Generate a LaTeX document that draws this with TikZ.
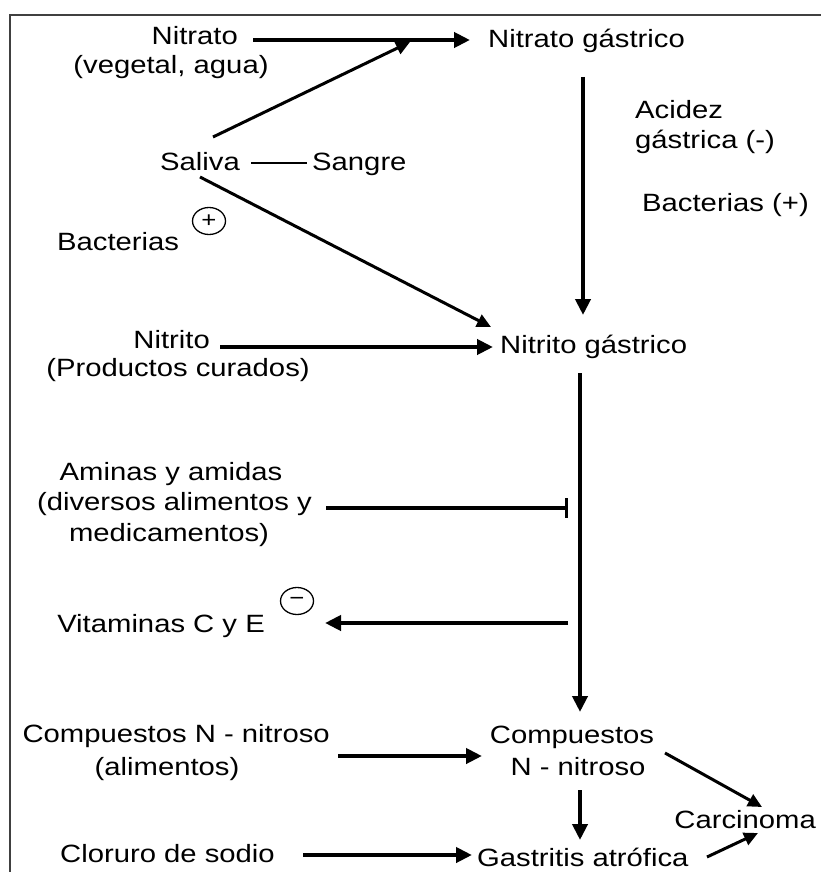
\documentclass[tikz,border=0pt]{standalone}
\usepackage{fontspec}
\setmainfont[FakeStretch=1.17]{Liberation Sans}
\usetikzlibrary{arrows.meta,calc,shapes.geometric}
\begin{document}
\begin{tikzpicture}[x=1pt,y=-1pt,
  txt/.style={inner sep=0pt,font=\fontsize{25}{30}\selectfont},
  arr/.style={line width=4pt,-{Triangle[length=16pt,width=15pt]}},
  darr/.style={line width=3pt,-{Triangle[length=14pt,width=13pt]}},
  barr/.style={line width=4pt,-{Bar[width=20pt,line width=3pt]}},
  sign/.style={ellipse,draw,line width=1.3pt,inner sep=0pt,minimum width=33pt,minimum height=27pt,font=\fontsize{22}{22}\selectfont}]
\useasboundingbox (0,0) rectangle (821,872);
\draw[line width=2pt,black!75] (821,15) -- (10,15) -- (10,872);
% nodes
\node[txt,anchor=base east] (nitrato) at (238,45) {Nitrato};
\node[txt,anchor=base] (nitratoSrc) at (171,74) {(vegetal, agua)};
\node[txt,anchor=base west] (ng) at (488,48) {Nitrato gástrico};
\node[txt,anchor=base west] (saliva) at (160,170) {Saliva};
\node[txt,anchor=base west] (sangre) at (312,170) {Sangre};
\node[txt,anchor=base west] (bacL) at (57,250) {Bacterias};
\node[sign] (plus) at (209,221) {+};
\node[txt,anchor=base west] (acidez) at (635,118) {Acidez};
\node[txt,anchor=base west] (gastrica) at (635,148) {gástrica (-)};
\node[txt,anchor=base west] (bacR) at (642,211) {Bacterias (+)};
\node[txt,anchor=base east] (nitrito) at (210,348) {Nitrito};
\node[txt,anchor=base] (nitritoSrc) at (178,376) {(Productos curados)};
\node[txt,anchor=base west] (nig) at (500,353) {Nitrito gástrico};
\node[txt,anchor=base] (am1) at (171,480) {Aminas y amidas};
\node[txt,anchor=base east] (am2) at (312,510) {(diversos alimentos y};
\node[txt,anchor=base] (am3) at (169,541) {medicamentos)};
\node[txt,anchor=base east] (vit) at (265,632) {Vitaminas C y E};
\node[sign] (minus) at (297,601) {−};
\node[txt,anchor=base east] (cnl1) at (330,742) {Compuestos N - nitroso};
\node[txt,anchor=base] (cnl2) at (167,775) {(alimentos)};
\node[txt,anchor=base] (cn1) at (572,743) {Compuestos};
\node[txt,anchor=base] (cn2) at (578,775) {N - nitroso};
\node[txt,anchor=base east] (cloruro) at (275,862) {Cloruro de sodio};
\node[txt,anchor=base west] (ga) at (477,866) {Gastritis atrófica};
\node[txt,anchor=base east] (carc) at (816,828) {Carcinoma};
% connectors
\draw[arr] ($(nitrato.base east)+(15,-5)$) -- ($(ng.base west)+(-18,-8)$);
\draw[darr] ($(saliva.base west)+(53,-33)$) -- ($(ng.base west)+(-78,-6)$);
\draw[line width=1.8pt] ($(saliva.base east)+(11,-7)$) -- ($(sangre.base west)+(-5,-7)$);
\draw[darr] ($(saliva.base west)+(40,7)$) -- ($(nig.base west)+(-9,-26)$);
\draw[arr] ($(ng.base west)+(95,29)$) -- ($(nig.base west)+(83,-38)$);
\draw[arr] ($(nitrito.base east)+(10,-1)$) -- ($(nig.base west)+(-7,-6)$);
\draw[arr] ($(nig.base west)+(80,20)$) -- ($(cn1.base)+(8,-31)$);
\draw[barr] ($(am2.base east)+(14,-2)$) -- ($(nig.base west)+(68,155)$);
\draw[arr] ($(nig.base west)+(68,270)$) -- ($(vit.base east)+(60,-9)$);
\draw[arr] ($(cnl1.base east)+(8,14)$) -- ($(cn1.base)+(-90,13)$);
\draw[arr] ($(cn2.base)+(2,15)$) -- ($(ga.base west)+(103,-26)$);
\draw[arr] ($(cloruro.base east)+(28,-7)$) -- ($(ga.base west)+(-5,-11)$);
\draw[darr] ($(cn1.base)+(93,10)$) -- ($(carc.base east)+(-54,-21)$);
\draw[darr] ($(ga.base west)+(230,-9)$) -- ($(carc.base east)+(-58,5)$);
\end{tikzpicture}
\end{document}
